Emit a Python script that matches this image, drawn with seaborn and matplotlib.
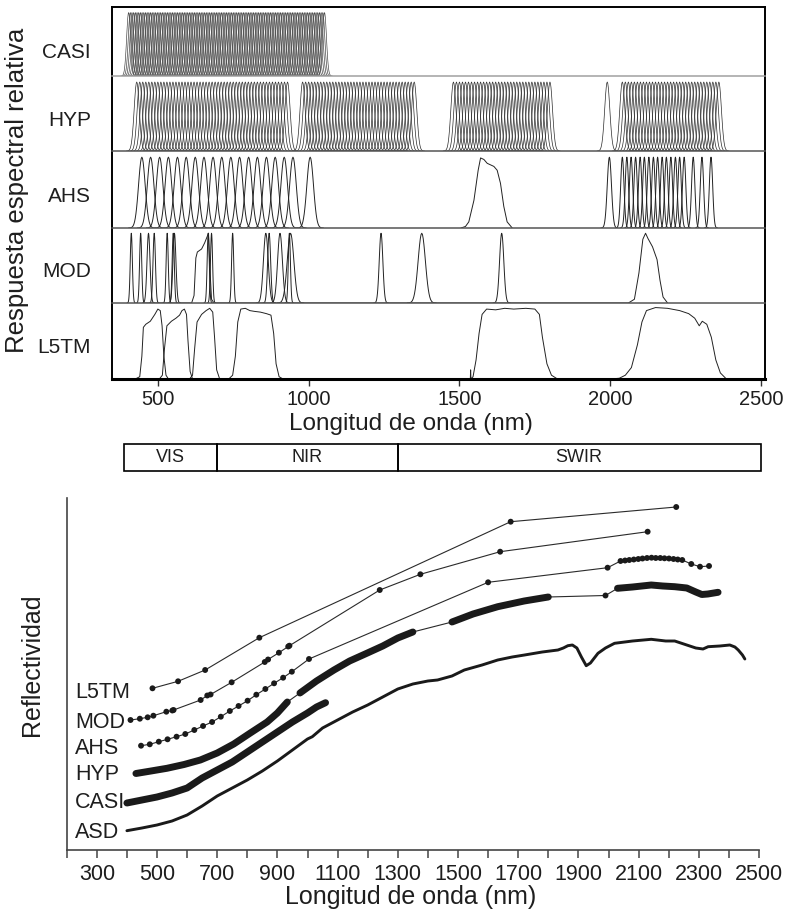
import numpy as np
import pandas as pd
import matplotlib
matplotlib.use("Agg")
import matplotlib.pyplot as plt
import seaborn as sns
from matplotlib.patches import Rectangle

# ---------------------------------------------------------------- data
row_names = ["CASI", "HYP", "AHS", "MOD", "L5TM"]

# regular channel groups: (first centre, last centre, spacing, sigma)
casi_groups = [(403, 1058, 5.6, 6.5)]
hyp_groups = [(430, 930, 10, 8.5), (980, 1350, 10, 8.5), (1480, 1800, 10, 8.5),
              (1990, 1990, 10, 8.5), (2040, 2360, 10, 8.5)]

ahs_vnir = [447, 476, 506, 535, 565, 594, 624, 653, 683, 712, 742, 771, 801,
            830, 860, 889, 919, 948, 1005]
ahs_swir = [1997, 2040, 2055, 2069, 2084, 2099, 2113, 2128, 2143, 2157, 2172,
            2186, 2201, 2216, 2230, 2245, 2275, 2304, 2334]
ahs_1600_nm = [1505, 1520, 1531, 1548, 1562, 1570, 1581, 1592, 1614, 1625, 1636, 1647, 1658, 1675]
ahs_1600_r = [0, 0.02, 0.08, 0.36, 0.75, 0.91, 0.89, 0.84, 0.80, 0.75, 0.58, 0.28, 0.08, 0]

mod_gauss_nm = [412, 443, 469, 488, 531, 551, 555, 667, 678, 748, 858, 869, 905,
                936, 940, 1240, 1375, 1640]
mod_gauss_sig = [3.5, 3.5, 5, 4, 3.5, 3.5, 5, 3.5, 3.5, 3.5, 8, 5, 8, 3.5, 11, 6, 12, 7]
mod_b1_nm = [612, 620, 626, 631, 645, 655, 663, 668, 672, 678, 686]
mod_b1_r = [0, 0.1, 0.6, 0.68, 0.72, 0.8, 0.88, 0.93, 0.5, 0.05, 0]
mod_b7_nm = [2060, 2080, 2095, 2108, 2117, 2125, 2140, 2155, 2165, 2175, 2190]
mod_b7_r = [0, 0.05, 0.4, 0.85, 0.93, 0.86, 0.75, 0.58, 0.3, 0.08, 0]

tm_nm = [
    [425, 440, 447, 452, 460, 475, 490, 500, 508, 514, 520, 527, 535],
    [505, 515, 522, 530, 545, 560, 572, 580, 588, 595, 600, 607, 615],
    [605, 615, 622, 630, 645, 660, 672, 682, 688, 695, 705],
    [735, 748, 757, 765, 775, 790, 805, 820, 840, 860, 875, 884, 892, 902, 915],
    [1530, 1536, 1537, 1538, 1545, 1555, 1565, 1575, 1590, 1620, 1650, 1680,
     1720, 1750, 1765, 1775, 1790, 1805, 1825],
    [2000, 2030, 2050, 2070, 2090, 2105, 2120, 2150, 2190, 2230, 2260, 2280,
     2295, 2305, 2320, 2335, 2350, 2365, 2385],
]
tm_r = [
    [0, 0.03, 0.3, 0.68, 0.72, 0.76, 0.85, 0.92, 0.9, 0.7, 0.3, 0.05, 0],
    [0, 0.05, 0.4, 0.7, 0.76, 0.8, 0.84, 0.9, 0.92, 0.85, 0.5, 0.1, 0],
    [0, 0.05, 0.4, 0.75, 0.85, 0.9, 0.93, 0.88, 0.55, 0.12, 0],
    [0, 0.05, 0.3, 0.75, 0.92, 0.93, 0.9, 0.89, 0.88, 0.86, 0.84, 0.6, 0.2, 0.03, 0],
    [0, 0, 0.12, 0, 0.03, 0.25, 0.6, 0.85, 0.92, 0.91, 0.93, 0.92, 0.93, 0.92,
     0.85, 0.55, 0.2, 0.05, 0],
    [0, 0.01, 0.05, 0.15, 0.45, 0.75, 0.9, 0.94, 0.93, 0.9, 0.86, 0.8, 0.7,
     0.76, 0.72, 0.55, 0.25, 0.08, 0],
]

# ---- bottom panel: reflectance spectra (arbitrary units, offset)
asd_nm = [400, 450, 500, 550, 600, 650, 700, 750, 800, 850, 900, 950, 1000, 1016,
          1050, 1100, 1150, 1200, 1250, 1300, 1350, 1400, 1432, 1480, 1521, 1580,
          1632, 1680, 1721, 1780, 1832, 1850, 1865, 1880, 1895, 1910, 1926, 1940,
          1965, 1990, 2020, 2080, 2142, 2190, 2220, 2250, 2290, 2314, 2331, 2370,
          2403, 2420, 2431, 2445, 2453]
asd_refl = [19.3, 22, 25, 29, 35, 44, 54, 62, 70, 79, 89, 100, 111, 113.3,
            122, 130, 138, 145, 153, 161, 166, 169, 170, 174, 180, 185,
            190, 193, 195, 198, 200, 202, 204.3, 205, 202, 193, 184.3, 187,
            196.7, 202, 206.7, 209, 210.7, 209, 209, 206, 202, 201, 203.3, 204,
            205, 203, 200, 195, 191]

casi_nm = [400, 450, 500, 550, 600, 650, 700, 750, 800, 850, 900, 950, 1000, 1030, 1060]
casi_refl = [47, 50, 53, 57, 62, 72, 80, 88, 98, 108, 118, 128, 137, 143, 147.3]

hyp_nm = [430, 480, 533, 590, 644, 700, 755, 810, 866, 900, 933,
          975, 1030, 1088, 1140, 1199, 1250, 1300, 1350,
          1480, 1550, 1632, 1720, 1800,
          1990,
          2030, 2080, 2142, 2180, 2220, 2260, 2290, 2310, 2330, 2364]
hyp_refl = [76.5, 79, 81.7, 85.5, 90, 97, 106, 117, 128, 137, 148,
            157, 169, 180, 189, 197, 204, 212, 218,
            228, 236, 243.3, 249, 253,
            254.5,
            261.7, 263, 265, 264, 263.3, 262, 258, 255.5, 256, 257.7]
hyp_segment = [1] * 11 + [2] * 8 + [3] * 5 + [4] + [5] * 10

ahs_nm = ahs_vnir + [1600] + ahs_swir
ahs_refl = [104.3, 105.7, 108.3, 110.7, 113.3, 116, 120, 124, 128, 133.3, 139, 144,
            149.3, 155.3, 161, 166.7, 172.3, 178.3, 191,
            267.7,
            282.3, 289, 289.5, 290, 290.5, 291, 291.5, 292, 292.3, 292, 292, 291.7,
            291.5, 291, 290.5, 290, 286, 283.3, 284]

mod_nm = [412, 443, 469, 488, 531, 551, 555, 645, 667, 678, 748, 858, 869, 905,
          936, 940, 1240, 1375, 1640, 2130]
mod_refl = [130, 131.3, 132.7, 134.3, 138.3, 139.5, 140, 150, 154.5, 155.5, 167.7,
            188, 190.5, 197.3, 203.5, 204.3, 260, 275.7, 298.3, 318.3]

tm_centres = [485, 570, 660, 840, 1675, 2225]
tm_refl = [161.7, 168.7, 180, 212.3, 328.3, 343]

regions = ["VIS", "NIR", "SWIR"]
region_edges = [390, 700, 1300, 2505]

top_ticks = [500, 1000, 1500, 2000, 2500]
bottom_ticks = list(range(300, 2501, 200))

# ---------------------------------------------------------------- style
sns.set_theme(style="white")
plt.rcParams['font.family'] = ['Liberation Sans', 'DejaVu Sans']
INK = "#1e1e1e"

W, H = 787, 915
fig = plt.figure(figsize=(W / 100, H / 100), dpi=100)


def fx(px):
    return px / W


def fy(py):
    return 1 - py / H


def gauss_bands(centres, sigmas, key, peak=0.92):
    parts = []
    for i, (c, s) in enumerate(zip(centres, sigmas)):
        x = np.linspace(c - 4 * s, c + 4 * s, 41)
        y = peak * np.exp(-0.5 * ((x - c) / s) ** 2)
        parts.append(pd.DataFrame({"nm": x, "r": y, "band": f"{key}{i}"}))
    return parts


def group_bands(groups, key):
    parts = []
    for g, (a, b, step, s) in enumerate(groups):
        cs = np.arange(a, b + 0.01, step)
        parts += gauss_bands(cs, [s] * len(cs), f"{key}{g}_")
    return parts


def knot_band(nm, r, key):
    return [pd.DataFrame({"nm": nm, "r": r, "band": key})]


rows = {
    "CASI": group_bands(casi_groups, "c"),
    "HYP": group_bands(hyp_groups, "h"),
    "AHS": gauss_bands(ahs_vnir, [11] * len(ahs_vnir), "av")
           + gauss_bands(ahs_swir, [7] + [5.5] * (len(ahs_swir) - 1), "as")
           + knot_band(ahs_1600_nm, ahs_1600_r, "a16"),
    "MOD": gauss_bands(mod_gauss_nm, mod_gauss_sig, "m", peak=0.93)
           + knot_band(mod_b1_nm, mod_b1_r, "m1") + knot_band(mod_b7_nm, mod_b7_r, "m7"),
    "L5TM": sum([knot_band(n, r, f"t{i}") for i, (n, r) in enumerate(zip(tm_nm, tm_r))], []),
}
row_lw = {"CASI": 0.45, "HYP": 0.5, "AHS": 0.7, "MOD": 0.7, "L5TM": 0.7}
row_col = {"CASI": "#3a3a3a", "HYP": "#2a2a2a", "AHS": "#222222", "MOD": "#222222",
           "L5TM": "#222222"}

# ---------------------------------------------------------------- top panel
row_px = [7, 76, 151, 228, 303, 379]
label_px = [52, 120, 196, 272, 348]
sep_colors = ["#a0a0a0", "#555555", "#555555", "#555555"]
for i, name in enumerate(row_names):
    top, bot = row_px[i], row_px[i + 1]
    ax = fig.add_axes([fx(111.7), fy(bot), fx(765) - fx(111.7), (bot - top) / H])
    ax.patch.set_visible(False)
    ax.set_zorder(10 - i)
    df = pd.concat(rows[name], ignore_index=True)
    sns.lineplot(data=df, x="nm", y="r", units="band", estimator=None, sort=False,
                 color=row_col[name], lw=row_lw[name], ax=ax, legend=False)
    ax.set_xlim(347, 2513)
    ax.set_ylim(0, 1)
    ax.set_xlabel("")
    ax.set_ylabel("")
    ax.set_yticks([])
    for s in ["left", "right"]:
        ax.spines[s].set_color("black")
        ax.spines[s].set_linewidth(1.4)
    ax.spines["top"].set_visible(i == 0)
    ax.spines["top"].set_color("black")
    ax.spines["top"].set_linewidth(1.4)
    if i < 4:
        ax.spines["bottom"].set_color(sep_colors[i])
        ax.spines["bottom"].set_linewidth(1.1)
        ax.set_xticks([])
    else:
        ax.spines["bottom"].set_color("black")
        ax.spines["bottom"].set_linewidth(2.2)
        ax.set_xticks(top_ticks)
        ax.set_xticklabels([str(t) for t in top_ticks])
        ax.tick_params(axis="x", direction="out", length=5, width=1, color="#333",
                       labelsize=14.5, pad=3, bottom=True, labelcolor=INK)
    fig.text(fx(91), fy(label_px[i]), name, ha="right", va="center",
             fontsize=15, color=INK)

fig.text(fx(17), fy(190), "Respuesta espectral relativa", rotation=90,
         ha="center", va="center", fontsize=18.5, color=INK)
fig.text(fx(411), fy(424), "Longitud de onda (nm)", ha="center", va="center",
         fontsize=17.5, color=INK)

# ---------------------------------------------------------------- region box
axr = fig.add_axes([fx(66.7), fy(472), fx(759) - fx(66.7), (472 - 443) / H])
axr.set_xlim(200, 2500)
axr.set_ylim(0, 1)
axr.axis("off")
for j, name in enumerate(regions):
    a, b = region_edges[j], region_edges[j + 1]
    axr.add_patch(Rectangle((a, 0.02), b - a, 0.96, fill=False, ec="black",
                            lw=1.2, clip_on=False))
    axr.text((a + b) / 2, 0.5, name, ha="center", va="center", fontsize=13, color=INK)

# ---------------------------------------------------------------- bottom panel
axb = fig.add_axes([fx(66.7), fy(850), fx(759) - fx(66.7), (850 - 498) / H])
axb.set_xlim(200, 2500)
axb.set_ylim(0, 352)

thin = dict(color="#2a2a2a", lw=0.8, estimator=None, sort=False, ax=axb, legend=False)
dot = dict(color="#1a1a1a", s=18, edgecolor="none", ax=axb, legend=False, zorder=4)

# ASD
sns.lineplot(x=asd_nm, y=asd_refl, color="#1a1a1a", lw=2.1, estimator=None,
             sort=False, ax=axb, legend=False)
# CASI
sns.lineplot(x=casi_nm, y=casi_refl, color="#1a1a1a", lw=5, estimator=None,
             sort=False, ax=axb, legend=False)
# HYP: thin line through all, thick segments
sns.lineplot(x=hyp_nm, y=hyp_refl, **thin)
hyp_df = pd.DataFrame({"nm": hyp_nm, "refl": hyp_refl, "seg": hyp_segment})
sns.lineplot(data=hyp_df[hyp_df.seg != 4], x="nm", y="refl", units="seg",
             estimator=None, sort=False, color="#1a1a1a", lw=5, ax=axb, legend=False)
sns.scatterplot(data=hyp_df[hyp_df.seg == 4], x="nm", y="refl", **dot)
# AHS
sns.lineplot(x=ahs_nm, y=ahs_refl, **thin)
sns.scatterplot(x=ahs_nm, y=ahs_refl, **dot)
# MODIS
sns.lineplot(x=mod_nm, y=mod_refl, **thin)
sns.scatterplot(x=mod_nm, y=mod_refl, **dot)
# L5TM
sns.lineplot(x=tm_centres, y=tm_refl, **thin)
sns.scatterplot(x=tm_centres, y=tm_refl, **dot)

for ln in axb.lines:
    ln.set_solid_capstyle("round")

axb.set_xlabel("")
axb.set_ylabel("")
axb.set_yticks([])
axb.spines["top"].set_visible(False)
axb.spines["right"].set_visible(False)
for s in ["left", "bottom"]:
    axb.spines[s].set_color("#444444")
    axb.spines[s].set_linewidth(1.2)
axb.set_xticks(bottom_ticks)
axb.set_xticklabels([str(t) for t in bottom_ticks])
axb.set_xticks(list(range(200, 2500, 200)), minor=True)
axb.tick_params(axis="x", which="both", direction="out", length=6, width=1.1,
                color="#444444", bottom=True)
axb.tick_params(axis="x", which="major", labelsize=15.5, pad=4, labelcolor=INK)

label_y = [693, 722, 749, 775, 803, 832]
for name, y in zip(["L5TM", "MOD", "AHS", "HYP", "CASI", "ASD"], label_y):
    fig.text(fx(75), fy(y), name, ha="left", va="center", fontsize=15.5, color=INK)

fig.text(fx(32), fy(665), "Reflectividad", rotation=90, ha="center", va="center",
         fontsize=18, color=INK)
fig.text(fx(411), fy(897), "Longitud de onda (nm)", ha="center", va="center",
         fontsize=18, color=INK)

fig.savefig("out.png", dpi=100)
